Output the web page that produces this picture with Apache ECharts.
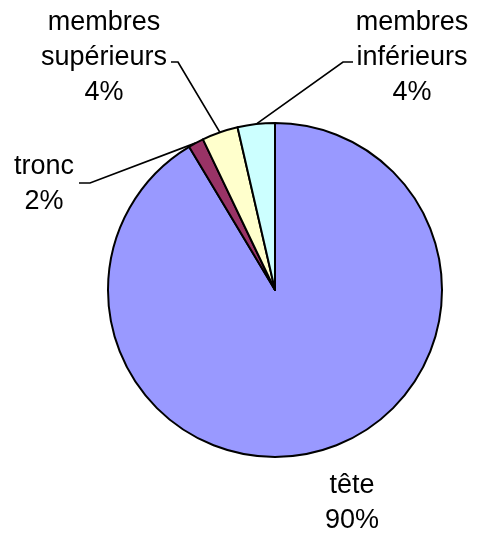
<!DOCTYPE html>
<html>
<head>
<meta charset="utf-8">
<script src="https://cdn.jsdelivr.net/npm/echarts@6/dist/echarts.min.js"></script>
<style>html,body{margin:0;padding:0;background:#fff;}#c{width:480px;height:534px;}</style>
</head>
<body>
<div id="c"></div>
<script>
// Data
var categories = ['tête', 'tronc', 'membres\nsupérieurs', 'membres\ninférieurs'];
var values = [91.4, 1.5, 3.5, 3.6];
var percentLabels = ['90%', '2%', '4%', '4%'];

// Styling / layout (not data)
var colors = ['#9999FF', '#993366', '#FFFFCC', '#CCFFFF'];
var labelAnchors = [
  { x: 352, y: 503, elbow: null, end: null },
  { x: 44, y: 184, elbow: [90, 183], end: [79, 183] },
  { x: 104, y: 58, elbow: [178, 62], end: [171, 62] },
  { x: 412, y: 58, elbow: [343, 62], end: [353, 62] }
];

var chart = echarts.init(document.getElementById('c'), null, { renderer: 'canvas' });
var seriesData = categories.map(function (name, i) {
  var item = { name: name, value: values[i], itemStyle: { color: colors[i] } };
  if (i === 0) item.labelLine = { show: false };
  return item;
});

chart.setOption({
  animation: false,
  backgroundColor: '#ffffff',
  series: [{
    type: 'pie',
    center: [275, 290],
    radius: [0, 167],
    startAngle: 90,
    clockwise: true,
    avoidLabelOverlap: false,
    data: seriesData,
    itemStyle: { borderColor: '#000000', borderWidth: 2 },
    emphasis: { disabled: true },
    label: {
      show: true,
      position: 'outside',
      formatter: function (p) { return categories[p.dataIndex] + '\n' + percentLabels[p.dataIndex]; },
      fontFamily: '"Liberation Sans", Arial, sans-serif',
      fontSize: 27,
      lineHeight: 35,
      color: '#000000',
      align: 'center'
    },
    labelLine: { show: true, length: 20, length2: 10, lineStyle: { color: '#000000', width: 1.7 } },
    labelLayout: function (params) {
      var a = labelAnchors[params.dataIndex];
      var res = { x: a.x, y: a.y, align: 'center', verticalAlign: 'middle', hideOverlap: false };
      if (a.elbow && params.labelLinePoints) {
        res.labelLinePoints = [params.labelLinePoints[0], a.elbow, a.end];
      }
      return res;
    }
  }]
});
</script>
</body>
</html>
